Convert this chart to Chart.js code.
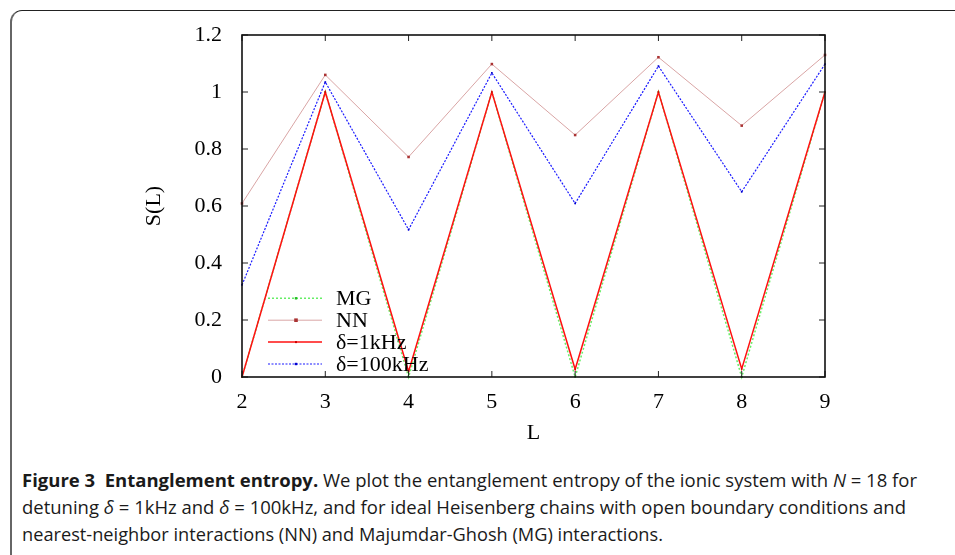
<!DOCTYPE html>
<html>
<head>
<meta charset="utf-8">
<script src="https://cdn.jsdelivr.net/npm/chart.js@4.4.0/dist/chart.umd.min.js"></script>
<style>
  html, body { margin: 0; padding: 0; background: #fff; width: 955px; height: 555px; overflow: hidden; }
  #frame { position: absolute; left: 10px; top: 10px; width: 1000px; height: 600px;
           border-left: 2px solid #666; border-top: 1.5px solid #222; border-top-left-radius: 12px; }
  #wrap { position: absolute; left: 0; top: 0; width: 955px; height: 460px; }
  .cap { position: absolute; left: 22px; font-family: "Open Sans", sans-serif; font-size: 17.5px;
         line-height: 27px; color: #1a1a1a; white-space: nowrap; transform-origin: 0 50%; }
  .cap b { font-weight: 700; }
</style>
</head>
<body>
<div id="frame"></div>
<div id="wrap"><canvas id="entropyChart" width="955" height="460"></canvas></div>
<div class="cap" id="cap1" data-w="895" style="top:467px"><b>Figure 3&nbsp;&nbsp;Entanglement entropy.</b> We plot the entanglement entropy of the ionic system with <i>N</i> = 18 for</div>
<div class="cap" id="cap2" data-w="884" style="top:494px">detuning <i>δ</i> = 1kHz and <i>δ</i> = 100kHz, and for ideal Heisenberg chains with open boundary conditions and</div>
<div class="cap" id="cap3" data-w="641" style="top:521px">nearest-neighbor interactions (NN) and Majumdar-Ghosh (MG) interactions.</div>

<script>
// chart data
const L = [2, 3, 4, 5, 6, 7, 8, 9];
const sMG = [0, 1, 0, 1, 0, 1, 0, 1];
const sNN = [0.609, 1.06, 0.772, 1.098, 0.849, 1.122, 0.882, 1.13];
const s1kHz = [0, 1.0, 0.019, 1.0, 0.027, 1.0, 0.028, 1.0];
const s100kHz = [0.323, 1.035, 0.517, 1.067, 0.609, 1.091, 0.65, 1.098];
const seriesLabels = ['MG', 'NN', 'δ=1kHz', 'δ=100kHz'];
const yTicks = [0, 0.2, 0.4, 0.6, 0.8, 1, 1.2];

const serif = '"Liberation Serif", "Times New Roman", serif';

function pts(ys) {
  return L.map((x, i) => ({ x: x, y: ys[i] }));
}

// box, inward mirrored ticks and a gnuplot-like legend inside the plot
const frameAndLegend = {
  id: 'frameAndLegend',
  afterDraw(chart) {
    const { ctx, chartArea: a, scales: { x, y } } = chart;
    ctx.save();
    ctx.strokeStyle = '#222';
    ctx.lineWidth = 1;
    L.forEach(v => {
      const px = x.getPixelForValue(v);
      ctx.beginPath();
      ctx.moveTo(px, a.bottom); ctx.lineTo(px, a.bottom - 6);
      ctx.moveTo(px, a.top); ctx.lineTo(px, a.top + 6);
      ctx.stroke();
    });
    yTicks.forEach(v => {
      const py = y.getPixelForValue(v);
      ctx.beginPath();
      ctx.moveTo(a.left, py); ctx.lineTo(a.left + 6, py);
      ctx.moveTo(a.right, py); ctx.lineTo(a.right - 6, py);
      ctx.stroke();
    });
    ctx.lineWidth = 1.6;
    ctx.strokeStyle = '#111';
    ctx.strokeRect(a.left, a.top, a.right - a.left, a.bottom - a.top);

    // legend
    ctx.font = '22px ' + serif;
    ctx.textBaseline = 'middle';
    ctx.textAlign = 'left';
    chart.data.datasets.forEach((ds, i) => {
      const ry = a.bottom - 13 - (3 - i) * 21.9;
      ctx.strokeStyle = ds.borderColor;
      ctx.lineWidth = ds.borderWidth;
      ctx.setLineDash(ds.borderDash || []);
      ctx.beginPath();
      ctx.moveTo(a.left + 26, ry); ctx.lineTo(a.left + 80, ry);
      ctx.stroke();
      ctx.setLineDash([]);
      const r = ds.pointRadius;
      ctx.fillStyle = ds.pointBackgroundColor;
      ctx.fillRect(a.left + 54 - r, ry - r, 2 * r, 2 * r);
      ctx.fillStyle = '#000';
      ctx.fillText(ds.label, a.left + 94, ry + 1);
    });
    ctx.restore();
  }
};

new Chart(document.getElementById('entropyChart'), {
  type: 'line',
  data: {
    datasets: [
      { label: seriesLabels[0], data: pts(sMG), borderColor: '#66ee66', borderWidth: 1.5, borderDash: [2, 2],
        pointStyle: 'rect', pointRadius: 1.2, pointBackgroundColor: '#22bb22', pointBorderWidth: 0, order: 4 },
      { label: seriesLabels[1], data: pts(sNN), borderColor: '#d9a5a5', borderWidth: 1, borderDash: [],
        pointStyle: 'rect', pointRadius: 1.8, pointBackgroundColor: '#a33', pointBorderWidth: 0, order: 3 },
      { label: seriesLabels[2], data: pts(s1kHz), borderColor: '#ff1010', borderWidth: 1.5, borderDash: [],
        pointStyle: 'rect', pointRadius: 1, pointBackgroundColor: '#cc0000', pointBorderWidth: 0, order: 1 },
      { label: seriesLabels[3], data: pts(s100kHz), borderColor: '#1a1aff', borderWidth: 1.2, borderDash: [2, 1.5],
        pointStyle: 'rect', pointRadius: 1.2, pointBackgroundColor: '#0000cc', pointBorderWidth: 0, order: 2 }
    ]
  },
  options: {
    responsive: false,
    animation: false,
    tension: 0,
    clip: false,
    layout: { padding: { top: 35, right: 130, left: 0, bottom: 0 } },
    plugins: { legend: { display: false }, tooltip: { enabled: false } },
    scales: {
      x: {
        type: 'linear', min: 2, max: 9,
        grid: { display: false }, border: { display: false },
        ticks: { stepSize: 1, padding: 4, color: '#000', font: { family: serif, size: 22 } },
        title: { display: true, text: 'L', color: '#000', font: { family: serif, size: 22 },
                 padding: { top: 0, bottom: 14 } },
        afterFit(scale) { scale.height = 83; }
      },
      y: {
        type: 'linear', min: 0, max: 1.2,
        grid: { display: false }, border: { display: false },
        ticks: { stepSize: 0.2, padding: 12, color: '#000', font: { family: serif, size: 22 },
                 callback: v => String(Math.round(v * 10) / 10) },
        title: { display: true, text: 'S(L)', color: '#000', font: { family: serif, size: 22 },
                 padding: { top: 141, bottom: 0 } },
        afterFit(scale) { scale.width = 242; }
      }
    }
  },
  plugins: [frameAndLegend]
});

// squeeze each caption line to the width it has in the figure
function fitCaption() {
  document.querySelectorAll('.cap').forEach(el => {
    el.style.transform = 'none';
    const w = el.getBoundingClientRect().width;
    el.style.transform = 'scaleX(' + (Number(el.dataset.w) / w) + ')';
  });
}
fitCaption();
document.fonts.ready.then(fitCaption);
</script>
</body>
</html>
